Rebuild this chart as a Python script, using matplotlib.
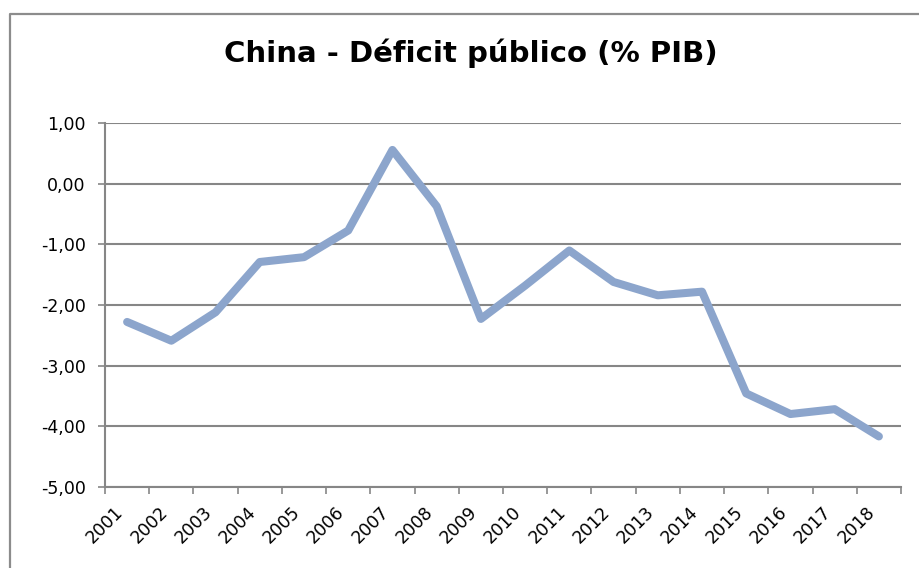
import matplotlib.pyplot as plt
from matplotlib.lines import Line2D
import numpy as np

years = ["2001", "2002", "2003", "2004", "2005", "2006", "2007", "2008", "2009",
         "2010", "2011", "2012", "2013", "2014", "2015", "2016", "2017", "2018"]
deficit = [-2.28, -2.59, -2.12, -1.29, -1.21, -0.77, 0.56, -0.37, -2.23,
           -1.68, -1.10, -1.62, -1.84, -1.78, -3.46, -3.80, -3.72, -4.17]
y_ticks = [1, 0, -1, -2, -3, -4, -5]
y_labels = ["1,00", "0,00", "-1,00", "-2,00", "-3,00", "-4,00", "-5,00"]

grid_color = "#868686"
line_color = "#8CA5CC"

fig = plt.figure(figsize=(9.2, 5.68), dpi=100)
ax = fig.add_axes([105 / 920, 1 - 486.7 / 568, (901 - 105) / 920, (486.7 - 123.3) / 568])

x = np.arange(len(years))
ax.plot(x, deficit, color=line_color, lw=5.8, solid_capstyle="round",
        solid_joinstyle="round", zorder=3)

ax.set_xlim(-0.5, len(years) - 0.5)
ax.set_ylim(-5, 1)

# y axis
ax.set_yticks(y_ticks)
ax.set_yticklabels(y_labels)
ax.tick_params(axis="y", length=5, width=1.2, color=grid_color, pad=9,
               labelsize=12.5, labelcolor="black")
for v in y_ticks:
    ax.axhline(v, color=grid_color, lw=1.5, zorder=1)

# x axis: tick marks between categories, labels at centers
ax.set_xticks(np.arange(-0.5, len(years), 1.0))
ax.set_xticklabels([])
ax.set_xticks(x, minor=True)
ax.set_xticklabels(years, minor=True, rotation=45, ha="right",
                   fontsize=12.5, color="black")
ax.tick_params(axis="x", which="major", length=5, width=1.2, color=grid_color)
ax.tick_params(axis="x", which="minor", length=0, pad=12)

for side in ["top", "right"]:
    ax.spines[side].set_visible(False)
for side in ["left", "bottom"]:
    ax.spines[side].set_color(grid_color)
    ax.spines[side].set_linewidth(1.5)

fig.text(471 / 920, 1 - 61.7 / 568, "China - Déficit público (% PIB)",
         ha="center", va="baseline", fontsize=21, fontweight="bold")

# chart frame (only left and top edges visible in the crop)
fig.add_artist(Line2D([10 / 920, 10 / 920, 1.0], [0.0, 1 - 14 / 568, 1 - 14 / 568],
                      transform=fig.transFigure, color="#8C8C8C", lw=1.6))

fig.savefig("out.png", dpi=100)
